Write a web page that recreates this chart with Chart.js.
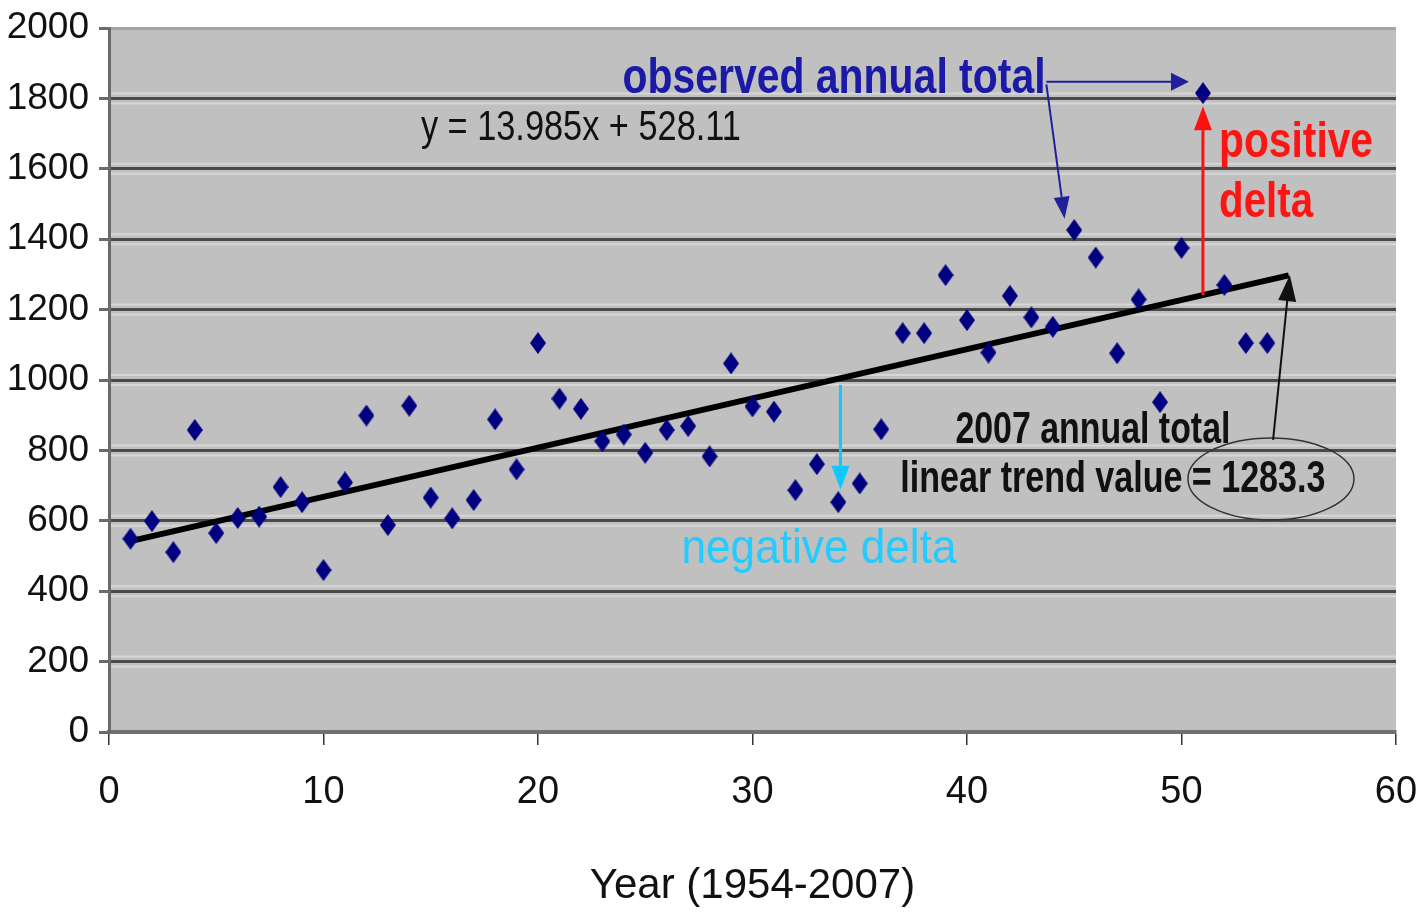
<!DOCTYPE html>
<html>
<head>
<meta charset="utf-8">
<script src="https://cdn.jsdelivr.net/npm/chart.js@4.4.1/dist/chart.umd.min.js"></script>
<style>
  html, body { margin: 0; padding: 0; background: #fff; }
  #wrap { width: 1425px; height: 912px; }
</style>
</head>
<body>
<div id="wrap"><canvas id="myChart" width="1425" height="912"></canvas></div>
<script>
// year index 1 = 1954 ... 54 = 2007
const yearIndex = [1, 2, 3, 4, 5, 6, 7, 8, 9, 10, 11, 12, 13, 14, 15, 16, 17, 18,
  19, 20, 21, 22, 23, 24, 25, 26, 27, 28, 29, 30, 31, 32, 33, 34, 35, 36,
  37, 38, 39, 40, 41, 42, 43, 44, 45, 46, 47, 48, 49, 50, 51, 52, 53, 54];
const annualTotal = [549, 599, 511, 858, 565, 608, 612, 696, 653, 460, 709, 899,
  588, 927, 666, 607, 659, 888, 746, 1105, 947, 918, 826, 845, 793, 858, 869, 783,
  1047, 925, 910, 687, 761, 653, 706, 860, 1133, 1133, 1298, 1170, 1078, 1239, 1178,
  1151, 1426, 1348, 1076, 1229, 937, 1375, 1815, 1270, 1105, 1105];
const trendSlope = 13.985;
const trendIntercept = 528.11;
const trendRange = [1, 55];
const xTicks = [0, 10, 20, 30, 40, 50, 60];
const yTicks = [0, 200, 400, 600, 800, 1000, 1200, 1400, 1600, 1800, 2000];

const SANS = '"Liberation Sans", Arial, sans-serif';

// tall diamond marker
const marker = document.createElement("canvas");
marker.width = 16;
marker.height = 22;
(function () {
  const m = marker.getContext("2d");
  m.fillStyle = "#000080";
  m.beginPath();
  m.moveTo(8, 0);
  m.lineTo(16, 11);
  m.lineTo(8, 22);
  m.lineTo(0, 11);
  m.closePath();
  m.fill();
})();

const points = yearIndex.map((x, i) => ({ x: x, y: annualTotal[i] }));
const trend = trendRange.map((x) => ({ x: x, y: trendSlope * x + trendIntercept }));

// squeezed text so it fits a given pixel width
function fitText(ctx, text, cx, baseY, font, color, width, align) {
  ctx.save();
  ctx.font = font;
  ctx.fillStyle = color;
  ctx.textBaseline = "alphabetic";
  ctx.textAlign = "left";
  const w = ctx.measureText(text).width;
  const sx = width / w;
  const left = align === "left" ? cx : cx - width / 2;
  ctx.translate(left, baseY);
  ctx.scale(sx, 1);
  ctx.fillText(text, 0, 0);
  ctx.restore();
}

function arrow(ctx, x1, y1, x2, y2, color, lw, headLen, headW) {
  const a = Math.atan2(y2 - y1, x2 - x1);
  const bx = x2 - headLen * Math.cos(a);
  const by = y2 - headLen * Math.sin(a);
  ctx.save();
  ctx.strokeStyle = color;
  ctx.fillStyle = color;
  ctx.lineWidth = lw;
  ctx.beginPath();
  ctx.moveTo(x1, y1);
  ctx.lineTo(bx, by);
  ctx.stroke();
  ctx.beginPath();
  ctx.moveTo(x2, y2);
  ctx.lineTo(bx + (headW / 2) * Math.sin(a), by - (headW / 2) * Math.cos(a));
  ctx.lineTo(bx - (headW / 2) * Math.sin(a), by + (headW / 2) * Math.cos(a));
  ctx.closePath();
  ctx.fill();
  ctx.restore();
}

const plotBg = {
  id: "plotBg",
  beforeDraw(chart) {
    const { ctx, chartArea: a, scales: { y } } = chart;
    ctx.save();
    ctx.fillStyle = "#c0c0c0";
    ctx.fillRect(a.left, a.top, a.right - a.left, a.bottom - a.top);
    // light highlight either side of each grid line
    ctx.strokeStyle = "#d6d6d6";
    ctx.lineWidth = 2;
    yTicks.forEach((v) => {
      if (v === 0 || v === 2000) return;
      const p = y.getPixelForValue(v);
      ctx.beginPath();
      ctx.moveTo(a.left, p + 5);
      ctx.lineTo(a.right, p + 5);
      ctx.moveTo(a.left, p - 5);
      ctx.lineTo(a.right, p - 5);
      ctx.stroke();
    });
    ctx.restore();
  },
};

const notes = {
  id: "notes",
  afterDatasetsDraw(chart) {
    const { ctx, scales: { x, y } } = chart;
    const px = (v) => x.getPixelForValue(v);
    const py = (v) => y.getPixelForValue(v);

    // observed annual total
    fitText(ctx, "observed annual total", px(33.8), py(1815), "bold 50px " + SANS, "#1a1aa6", 423);
    arrow(ctx, px(43.7), py(1847), px(50.35), py(1847), "#20209a", 2, 18, 18);
    arrow(ctx, px(43.7), py(1840), px(44.55), py(1458), "#20209a", 2, 22, 16);

    // regression equation
    fitText(ctx, "y = 13.985x + 528.11", px(22.0), py(1682), "42px " + SANS, "#111", 320);

    // positive delta
    arrow(ctx, px(51), py(trendSlope * 51 + trendIntercept), px(51), py(1778), "#ff1010", 3, 24, 18);
    fitText(ctx, "positive", px(51.75), py(1633), "bold 50px " + SANS, "#ff1414", 154, "left");
    fitText(ctx, "delta", px(51.75), py(1463), "bold 50px " + SANS, "#ff1414", 94, "left");

    // negative delta
    arrow(ctx, px(34.1), py(986), px(34.1), py(688), "#10c8ff", 3, 24, 18);
    fitText(ctx, "negative delta", px(33.1), py(480), "48px " + SANS, "#22ccff", 275);

    // 2007 trend value
    fitText(ctx, "2007 annual total", px(45.87), py(821), "bold 44px " + SANS, "#111", 275);
    fitText(ctx, "linear trend value = 1283.3", px(46.8), py(682), "bold 44px " + SANS, "#111", 425);
    ctx.save();
    ctx.strokeStyle = "#333";
    ctx.lineWidth = 1.5;
    ctx.beginPath();
    ctx.ellipse(px(54.17), py(719), 83, 41, 0, 0, Math.PI * 2);
    ctx.stroke();
    ctx.restore();
    arrow(ctx, px(54.27), py(830), px(55.05), py(1298), "#111", 2, 26, 18);
  },
};

const ctx = document.getElementById("myChart");
new Chart(ctx, {
  type: "scatter",
  data: {
    datasets: [
      {
        label: "annual total",
        data: points,
        pointStyle: marker,
        pointRadius: 8,
        order: 1,
      },
      {
        label: "linear trend",
        type: "line",
        data: trend,
        borderColor: "#000",
        borderWidth: 6,
        pointRadius: 0,
        fill: false,
        order: 2,
      },
    ],
  },
  options: {
    responsive: false,
    animation: false,
    layout: { padding: { top: 28, right: 29, left: 0, bottom: 0 } },
    plugins: {
      legend: { display: false },
      tooltip: { enabled: false },
    },
    scales: {
      x: {
        type: "linear",
        min: 0,
        max: 60,
        afterBuildTicks: (s) => { s.ticks = xTicks.map((v) => ({ value: v })); },
        afterFit: (s) => {
          s.height = 180;
          s.paddingLeft = 0;
          s.paddingRight = 0;
        },
        ticks: {
          color: "#111",
          padding: 25,
          maxRotation: 0,
          font: { family: SANS, size: 38 },
        },
        grid: {
          drawOnChartArea: false,
          tickLength: 13,
          tickColor: "#333",
          lineWidth: 1.5,
        },
        border: { color: "#707070", width: 4 },
        title: {
          display: true,
          text: "Year (1954-2007)",
          color: "#111",
          padding: { top: 0, bottom: 0 },
          font: { family: SANS, size: 42 },
        },
      },
      y: {
        min: 0,
        max: 2000,
        afterBuildTicks: (s) => { s.ticks = yTicks.map((v) => ({ value: v })); },
        afterFit: (s) => {
          s.width = 109;
          s.paddingTop = 0;
          s.paddingBottom = 0;
        },
        ticks: {
          color: "#111",
          padding: 10,
          callback: (v) => String(v),
          font: { family: SANS, size: 37 },
        },
        grid: {
          color: (c) => (c.tick && c.tick.value === 2000 ? "#a4a4a4" : "#4a4a4a"),
          lineWidth: 3,
          tickLength: 10,
          tickColor: "#6a6a6a",
        },
        border: { color: "#6a6a6a", width: 3 },
      },
    },
  },
  plugins: [plotBg, notes],
});
</script>
</body>
</html>
